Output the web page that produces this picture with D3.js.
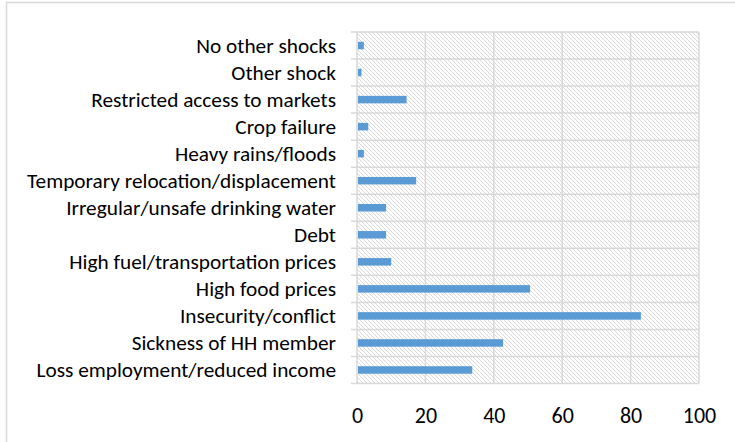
<!DOCTYPE html>
<html>
    <head>
        <meta charset="UTF-8">
        <style type="text/css">
            body{ margin: 0; background: #fff; }
            .cat text{ font-family: Carlito, Calibri, Lato, sans-serif; font-size: 21.3px; fill: #000; }
            .val text{ font-family: Carlito, Calibri, Lato, sans-serif; font-size: 22px; fill: #000; }
        </style>
        <script src="https://d3js.org/d3.v7.min.js"></script>
    </head>
    <body>
        <svg width="735" height="442"></svg>

        <script type="text/javascript">
            // categories top to bottom, values in % of households
            var categories = [
                "No other shocks",
                "Other shock",
                "Restricted access to markets",
                "Crop failure",
                "Heavy rains/floods",
                "Temporary relocation/displacement",
                "Irregular/unsafe drinking water",
                "Debt",
                "High fuel/transportation prices",
                "High food prices",
                "Insecurity/conflict",
                "Sickness of HH member",
                "Loss employment/reduced income"
            ];
            var values = [2.0, 1.3, 14.5, 3.3, 2.0, 17.3, 8.5, 8.5, 10.0, 50.6, 83.0, 42.7, 33.7];
            var xTicks = [0, 20, 40, 60, 80, 100];

            var svg = d3.select("svg");
            var plot = {left: 357, right: 699, top: 32, bottom: 383.5};

            var x = d3.scaleLinear().domain([0, 100]).range([plot.left, plot.right]);
            var y = d3.scaleBand().domain(categories).range([plot.top, plot.bottom]).paddingInner(0).paddingOuter(0);

            // outer chart border
            svg.append("rect")
                .attr("x", 6.5).attr("y", 2.5)
                .attr("width", 760).attr("height", 460)
                .attr("fill", "#fff")
                .attr("stroke", "#d9d9d9")
                .attr("stroke-width", 1.5);

            // hatch for plot area
            var defs = svg.append("defs");
            var pat = defs.append("pattern")
                .attr("id", "hatch")
                .attr("patternUnits", "userSpaceOnUse")
                .attr("width", 4).attr("height", 4);
            pat.append("rect").attr("width", 4).attr("height", 4).attr("fill", "#fff");
            pat.append("path")
                .attr("d", "M-1,-1 L5,5 M-1,3 L1,5 M3,-1 L5,1")
                .attr("stroke", "#d9d9d9")
                .attr("stroke-width", 1);

            svg.append("rect")
                .attr("x", plot.left).attr("y", plot.top)
                .attr("width", plot.right - plot.left)
                .attr("height", plot.bottom - plot.top)
                .attr("fill", "url(#hatch)");

            // gridlines
            var grid = svg.append("g").attr("stroke", "#d9d9d9").attr("stroke-width", 1.5);
            grid.selectAll(".vg").data(xTicks).enter().append("line")
                .attr("x1", function(d){ return x(d); })
                .attr("x2", function(d){ return x(d); })
                .attr("y1", plot.top).attr("y2", plot.bottom);
            var bounds = categories.map(function(c){ return y(c); }).concat([plot.bottom]);
            grid.selectAll(".hg").data(bounds).enter().append("line")
                .attr("x1", plot.left - 6).attr("x2", plot.right)
                .attr("y1", function(d){ return d; })
                .attr("y2", function(d){ return d; });

            // bars
            var barH = 7.5;
            svg.append("g").selectAll("rect").data(values).enter().append("rect")
                .attr("x", x(0) + 1)
                .attr("y", function(d, i){ return y(categories[i]) + y.bandwidth() / 2 - barH / 2; })
                .attr("width", function(d){ return x(d) - x(0) - 1; })
                .attr("height", barH)
                .attr("fill", "#5b9bd5");

            // category axis
            var yAxis = svg.append("g")
                .attr("class", "cat")
                .attr("transform", "translate(" + (plot.left - 21) + ",0)")
                .call(d3.axisLeft(y).tickSize(0).tickPadding(0));
            yAxis.select(".domain").remove();
            yAxis.selectAll("text").attr("dy", "0.33em");

            // value axis
            var xAxis = svg.append("g")
                .attr("class", "val")
                .attr("transform", "translate(0," + (plot.bottom + 24) + ")")
                .call(d3.axisBottom(x).tickValues(xTicks).tickSize(0).tickPadding(0));
            xAxis.select(".domain").remove();
            xAxis.selectAll("text").attr("dy", "0.71em");
        </script>
    </body>
</html>
